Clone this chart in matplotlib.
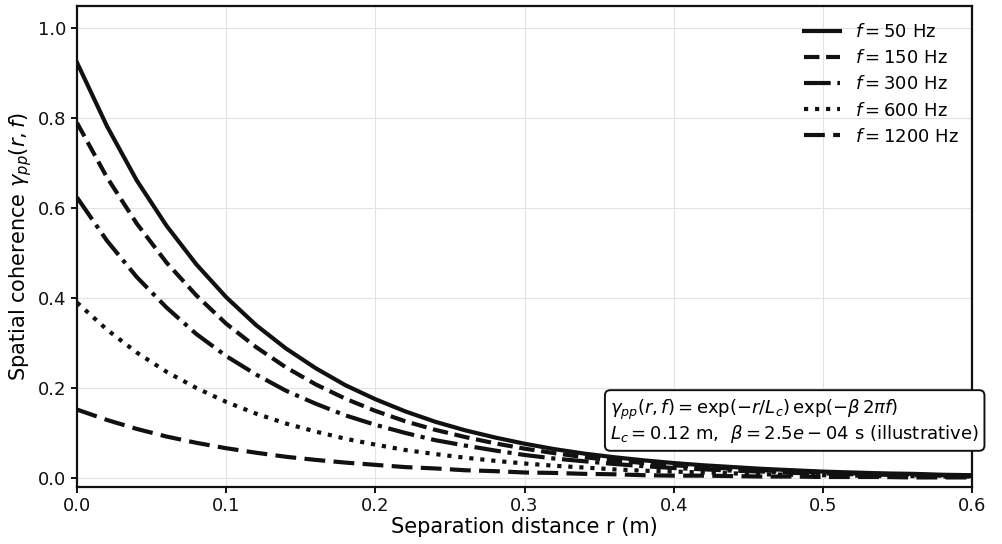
import matplotlib.pyplot as plt

# separation distance (m)
r = [0.00, 0.02, 0.04, 0.06, 0.08, 0.10, 0.12, 0.14, 0.16, 0.18,
     0.20, 0.22, 0.24, 0.26, 0.28, 0.30, 0.32, 0.34, 0.36, 0.38,
     0.40, 0.42, 0.44, 0.46, 0.48, 0.50, 0.52, 0.54, 0.56, 0.58, 0.60]

# coherence values
coh_50 = [0.924, 0.783, 0.662, 0.561, 0.475, 0.402, 0.340, 0.288, 0.244, 0.206,
          0.175, 0.148, 0.125, 0.106, 0.090, 0.076, 0.064, 0.054, 0.046, 0.039,
          0.033, 0.028, 0.024, 0.020, 0.017, 0.014, 0.012, 0.010, 0.009, 0.007, 0.006]
coh_150 = [0.790, 0.669, 0.566, 0.479, 0.406, 0.343, 0.291, 0.246, 0.208, 0.176,
           0.149, 0.126, 0.107, 0.091, 0.077, 0.065, 0.055, 0.046, 0.039, 0.033,
           0.028, 0.024, 0.020, 0.017, 0.014, 0.012, 0.010, 0.009, 0.007, 0.006, 0.005]
coh_300 = [0.624, 0.528, 0.447, 0.379, 0.320, 0.271, 0.230, 0.194, 0.165, 0.139,
           0.118, 0.100, 0.084, 0.072, 0.061, 0.051, 0.043, 0.037, 0.031, 0.026,
           0.022, 0.019, 0.016, 0.014, 0.011, 0.010, 0.008, 0.007, 0.006, 0.005, 0.004]
coh_600 = [0.390, 0.330, 0.279, 0.236, 0.200, 0.169, 0.143, 0.121, 0.103, 0.087,
           0.074, 0.062, 0.053, 0.045, 0.038, 0.032, 0.027, 0.023, 0.019, 0.016,
           0.014, 0.012, 0.010, 0.008, 0.007, 0.006, 0.005, 0.004, 0.004, 0.003, 0.003]
coh_1200 = [0.152, 0.129, 0.109, 0.092, 0.078, 0.066, 0.056, 0.047, 0.040, 0.034,
            0.029, 0.024, 0.021, 0.017, 0.015, 0.012, 0.011, 0.009, 0.008, 0.006,
            0.005, 0.005, 0.004, 0.003, 0.003, 0.002, 0.002, 0.002, 0.001, 0.001, 0.001]

freqs = [50, 150, 300, 600, 1200]
curves = [coh_50, coh_150, coh_300, coh_600, coh_1200]
styles = ['-', '--', '-.', ':', (0, (5, 2))]

fig = plt.figure(figsize=(10.03, 5.44), dpi=100)
ax = fig.add_axes([0.0768, 0.105, 0.8925, 0.884])

for f, c, ls in zip(freqs, curves, styles):
    ax.plot(r, c, color='#111111', ls=ls, lw=3, label=f'$f = {f}$ Hz')

ax.set_xlim(0, 0.6)
ax.set_ylim(-0.02, 1.05)
ax.set_xticks([0.0, 0.1, 0.2, 0.3, 0.4, 0.5, 0.6])
ax.set_yticks([0.0, 0.2, 0.4, 0.6, 0.8, 1.0])
ax.grid(True, color='#e3e3e3', lw=0.8)
ax.set_axisbelow(True)
for s in ax.spines.values():
    s.set_linewidth(1.6)
    s.set_color('#111111')
ax.tick_params(labelsize=13, length=4, width=1.4, colors='#111111')

ax.set_xlabel('Separation distance r (m)', fontsize=15, labelpad=1)
ax.set_ylabel(r'Spatial coherence $\gamma_{pp}(r, f)$', fontsize=15, labelpad=3)

ax.legend(loc='upper right', frameon=False, fontsize=13, handlelength=2.0,
          labelspacing=0.45, bbox_to_anchor=(1.003, 0.998))

ax.text(0.8017, 0.136,
        r'$\gamma_{pp}(r, f) = \exp(-r/L_c)\,\exp(-\beta\,2\pi f)$' + '\n'
        + r'$L_c = 0.12$ m,  $\beta = 2.5e-04$ s (illustrative)',
        transform=ax.transAxes, ha='center', va='center', fontsize=13,
        multialignment='left', zorder=5, linespacing=1.1,
        bbox=dict(boxstyle='round,pad=0.3', fc='white', ec='#111111', lw=1.4))

fig.savefig('out.png', dpi=100)
